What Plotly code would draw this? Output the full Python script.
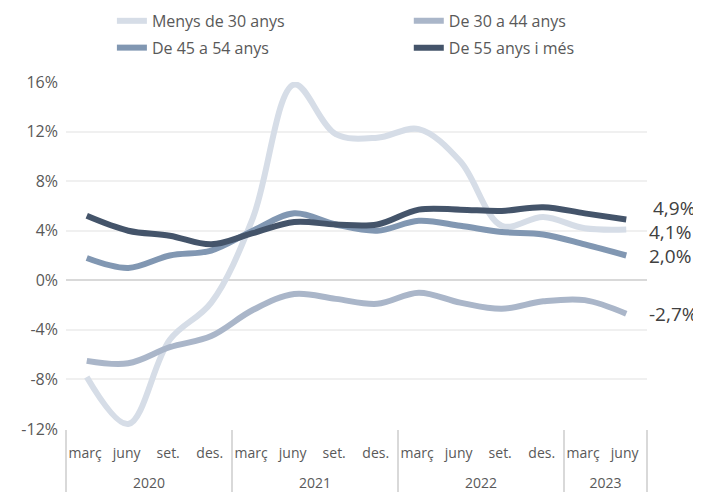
import plotly.graph_objects as go

years = ["2020"]*4 + ["2021"]*4 + ["2022"]*4 + ["2023"]*2
quarters = ["març", "juny", "set.", "des."]*3 + ["març", "juny"]

menys30 = [-7.8, -11.6, -4.8, -1.8, 5.0, 15.8, 11.8, 11.5, 12.2, 9.6, 4.4, 5.1, 4.2, 4.1]
de30_44 = [-6.5, -6.7, -5.4, -4.5, -2.4, -1.1, -1.5, -1.9, -1.0, -1.8, -2.3, -1.7, -1.6, -2.7]
de45_54 = [1.8, 1.0, 2.0, 2.4, 4.0, 5.4, 4.5, 4.0, 4.8, 4.4, 3.9, 3.7, 2.9, 2.0]
de55 = [5.2, 4.0, 3.6, 2.9, 3.8, 4.7, 4.5, 4.5, 5.7, 5.7, 5.6, 5.9, 5.4, 4.9]

y_ticks = [-12, -8, -4, 0, 4, 8, 12, 16]
y_ticklabels = ["-12%", "-8%", "-4%", "0%", "4%", "8%", "12%", "16%"]

names = ["Menys de 30 anys", "De 30 a 44 anys", "De 45 a 54 anys", "De 55 anys i més"]
series = [menys30, de30_44, de45_54, de55]
colors = ["#d6dde7", "#aab6c9", "#8197b2", "#44546a"]
legend_ids = ["legend", "legend2", "legend", "legend2"]
label_shift = [-3, 0, 0, 12]
label_xshift = [0, 0, 0, 4]

# a tall invisible hair space widens the gap between the two label levels
quarter_labels = [q + "<span style='font-size:31px'>\u200a</span>" for q in quarters]

fig = go.Figure()
for i, (n, s, c, lg) in enumerate(zip(names, series, colors, legend_ids)):
    fig.add_trace(go.Scatter(
        x=[years, quarter_labels], y=s, name=n, mode="lines",
        line=dict(color=c, width=6, shape="spline", smoothing=1),
        legend=lg, legendgroup=f"g{i}", cliponaxis=False,
    ))

for s, sh, xs in zip(series, label_shift, label_xshift):
    v = s[-1]
    fig.add_annotation(
        xref="paper", x=1, y=v, yref="y", xanchor="left", yanchor="middle",
        text=f"{v:.1f}".replace(".", ",") + "%", showarrow=False,
        xshift=xs, yshift=sh, font=dict(size=19, color="#404040"),
    )

leg_common = dict(
    orientation="v", xanchor="left", y=1.225, yanchor="top",
    font=dict(size=16, color="#595959"), bgcolor="rgba(0,0,0,0)", tracegroupgap=3,
)

fig.update_layout(
    width=693, height=484,
    margin=dict(l=58, r=54, t=74, b=63, autoexpand=False),
    paper_bgcolor="white", plot_bgcolor="white",
    font=dict(family="Open Sans", color="#595959", size=15),
    showlegend=True,
    legend=dict(x=0.079, **leg_common),
    legend2=dict(x=0.590, **leg_common),
    xaxis=dict(
        type="multicategory", range=[-0.5, len(quarters) - 0.5],
        showgrid=False, showline=False, ticks="",
        showdividers=True, dividercolor="#d9d9d9", dividerwidth=1.5,
        tickfont=dict(size=14, color="#595959"), tickangle=0, ticklabelstandoff=14,
    ),
    yaxis=dict(
        range=[-12, 16], tickvals=y_ticks, ticktext=y_ticklabels,
        showgrid=True, gridcolor="#f0f0f0", gridwidth=1.5,
        zeroline=True, zerolinecolor="#d9d9d9", zerolinewidth=1.5,
        tickfont=dict(size=16, color="#595959"), ticklabelstandoff=7,
    ),
)

fig.write_html("out.html")
